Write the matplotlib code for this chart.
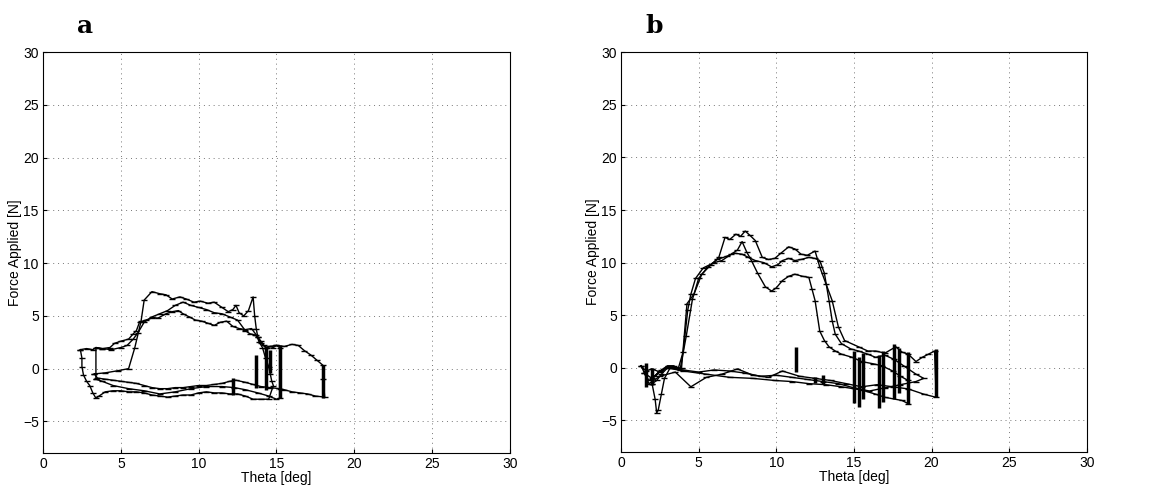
import matplotlib
matplotlib.use("Agg")
import matplotlib.pyplot as plt

plt.rcParams['font.family'] = ['Liberation Sans', 'DejaVu Sans']

# ---- panel a traces (theta [deg], force [N]) ----
a1_x = [3.3, 4.0, 4.8, 5.5, 5.9, 6.3, 6.5, 7.0, 7.5, 7.9, 8.3, 8.8, 9.2, 9.7, 10.1, 10.6, 11.0, 11.5,
        11.9, 12.2, 12.4, 12.6, 12.9, 13.2, 13.5, 13.6, 13.7, 13.8, 14.0, 14.3, 14.6, 15.0, 15.5, 16.0,
        16.4, 16.8, 17.2, 17.6, 18.0, 18.0, 18.1, 17.5, 17.0, 16.5, 16.0, 15.5, 15.2, 14.6, 14.0, 13.5,
        13.0, 12.4, 12.0, 11.5, 11.0, 10.5, 10.0, 9.5, 9.0, 8.5, 8.0, 7.5, 7.0, 6.5, 6.0, 5.5, 5.0,
        4.5, 4.0, 3.5, 3.3]
a1_y = [-0.5, -0.4, -0.2, 0.0, 2.0, 4.5, 6.5, 7.3, 7.1, 7.0, 6.6, 6.8, 6.6, 6.3, 6.4, 6.2, 6.3, 5.8,
        5.4, 5.6, 6.0, 5.3, 5.0, 5.5, 6.8, 5.0, 3.8, 3.0, 2.4, 2.0, 2.1, 2.2, 2.1, 2.3,
        2.2, 1.7, 1.3, 0.8, 0.3, -1.0, -2.7, -2.6, -2.4, -2.3, -2.2, -2.0, -1.9, -1.8, -1.7, -1.5,
        -1.3, -1.1, -1.2, -1.4, -1.5, -1.6, -1.6, -1.7, -1.8, -1.8, -1.9, -1.9, -1.8, -1.6, -1.4, -1.3, -1.2,
        -1.1, -1.0, -0.9, -0.5]

a2_x = [2.4, 2.8, 3.2, 3.4, 3.8, 4.3, 4.6, 5.0, 5.5, 5.8, 6.0, 6.2, 6.6, 7.0, 7.4, 7.9, 8.3, 8.7,
        9.0, 9.4, 9.8, 10.2, 10.6, 11.0, 11.4, 11.8, 12.2, 12.6, 13.0, 13.4, 13.7, 13.9, 14.1, 14.3,
        14.5, 14.6, 14.7, 14.8, 14.5, 14.0, 13.5, 13.0, 12.5, 12.0, 11.5, 11.0, 10.5, 10.0, 9.5, 9.0,
        8.5, 8.0, 7.5, 7.0, 6.5, 6.0, 5.5, 5.0, 4.5, 4.0, 3.6, 3.4, 3.2, 3.0, 2.8, 2.6, 2.5, 2.5, 2.4]
a2_y = [1.8, 1.9, 1.8, 2.0, 1.9, 2.0, 2.4, 2.6, 2.8, 3.3, 3.6, 4.4, 4.6, 4.8, 4.8, 5.2, 5.4, 5.5,
        5.2, 4.9, 4.6, 4.5, 4.3, 4.1, 4.4, 4.5, 4.0, 3.8, 3.7, 3.8, 3.2, 2.5, 2.0, 1.0,
        0.2, -0.5, -1.2, -1.6, -2.9, -2.9, -2.9, -2.6, -2.4, -2.4, -2.3, -2.3, -2.2, -2.3, -2.5, -2.5,
        -2.6, -2.7, -2.6, -2.5, -2.3, -2.2, -2.2, -2.1, -2.1, -2.2, -2.6, -2.8, -2.3, -1.6, -1.2, -0.6, 0.2, 1.0, 1.8]

a3_x = [3.4, 3.4, 3.8, 4.4, 5.0, 5.4, 5.8, 6.1, 6.5, 7.0, 7.5, 8.0, 8.5, 9.0, 9.5, 10.0, 10.5, 11.0,
        11.5, 12.0, 12.5, 13.0, 13.3, 13.6, 13.8, 14.0, 14.2, 14.4, 14.6, 14.8, 15.0, 15.2, 15.2, 15.0,
        14.5, 13.8, 13.0, 12.3, 11.5, 10.5, 9.5, 8.5, 7.5, 6.5, 5.5, 4.5, 3.8, 3.4]
a3_y = [-1.0, 2.0, 1.9, 1.8, 2.0, 2.2, 2.8, 3.4, 4.4, 4.9, 5.2, 5.5, 6.0, 6.3, 6.0, 5.8, 5.6, 5.3,
        5.2, 4.9, 4.6, 3.6, 3.3, 3.2, 3.0, 2.6, 2.2, 2.0, 2.1, 2.0, 2.2, 2.0, -2.8, -2.9,
        -2.6, -2.3, -2.0, -1.8, -1.7, -1.7, -1.9, -2.2, -2.4, -2.1, -1.9, -1.6, -1.2, -1.0]

# short vertical stair blocks (x, y_top, y_bottom)
a_blk_x = [12.2, 13.7, 14.3, 14.6, 15.2, 18.0]
a_blk_top = [-0.9, 1.3, 2.0, 1.8, 2.2, 0.3]
a_blk_bot = [-2.5, -1.8, -2.0, -0.4, -2.8, -2.8]

# ---- panel b traces ----
b1_x = [1.3, 1.6, 2.0, 2.5, 3.0, 3.5, 3.9, 4.25, 4.7, 5.2, 5.8, 6.3, 6.7, 7.0, 7.4, 7.7, 8.0, 8.3,
        8.65, 9.1, 9.5, 9.9, 10.3, 10.8, 11.2, 11.6, 12.0, 12.5, 12.8, 13.2, 13.6, 14.0, 14.4, 15.3,
        15.9, 16.4, 17.0, 17.7, 18.1, 18.5, 19.0, 19.4, 19.8, 20.2, 20.3, 19.5, 18.5, 17.5, 16.5, 15.5,
        14.5, 13.5, 12.5, 11.5, 10.4, 9.5, 8.5, 7.5, 6.5, 5.5, 4.5, 3.5, 2.5, 1.8, 1.3]
b1_y = [0.2, -0.3, -0.1, -0.4, 0.1, 0.0, 0.0, 6.1, 7.0, 8.9, 9.8, 10.5, 12.4, 12.2, 12.7, 12.5, 13.0, 12.6,
        12.1, 10.5, 10.3, 10.4, 10.9, 11.5, 11.3, 10.8, 10.7, 11.1, 9.6, 8.0, 6.4, 3.9, 2.6, 2.0,
        1.6, 1.6, 1.4, 2.0, 1.5, 1.3, 0.6, 1.0, 1.3, 1.6, -2.8, -2.5, -2.0, -1.8, -1.6, -1.8,
        -1.5, -1.2, -1.0, -0.8, -0.3, -0.9, -0.7, -0.1, -0.6, -0.9, -1.8, -0.4, -0.8, -1.5, 0.2]

b2_x = [2.0, 2.2, 2.3, 2.4, 2.6, 2.8, 3.2, 3.7, 4.0, 4.3, 4.5, 4.8, 5.3, 6.0, 6.5, 7.1, 7.5, 7.8,
        8.1, 8.4, 8.8, 9.3, 9.7, 10.0, 10.4, 10.8, 11.2, 11.7, 12.1, 12.3, 12.5, 12.8, 13.1, 13.4,
        13.8, 14.2, 14.9, 15.5, 16.2, 16.8, 17.5, 18.0, 18.5, 18.5, 18.1, 17.0, 16.4, 15.5, 14.2, 13.2,
        12.1, 11.0, 9.9, 8.5, 7.0, 5.5, 4.0, 3.0, 2.6, 2.3, 2.0]
b2_y = [-1.5, -3.0, -4.3, -4.0, -2.5, -1.0, 0.1, 0.0, 1.5, 5.5, 7.0, 8.5, 9.5, 10.0, 10.2, 10.8, 11.2, 12.0,
        11.0, 10.2, 9.0, 7.7, 7.3, 7.6, 8.3, 8.7, 8.9, 8.7, 8.6, 7.5, 6.4, 3.5, 2.6, 2.0,
        1.6, 1.3, 1.0, 0.6, 0.4, 0.2, -0.3, -0.8, -1.2, -3.4, -3.1, -2.8, -2.5, -2.1, -1.8, -1.6,
        -1.5, -1.3, -1.2, -1.0, -0.9, -0.6, -0.3, 0.0, -0.6, -1.2, -1.5]

b3_x = [1.5, 1.8, 2.2, 2.6, 3.0, 3.4, 3.8, 4.2, 4.6, 5.0, 5.6, 6.2, 6.8, 7.3, 7.8, 8.2, 8.65, 9.2,
        9.7, 10.1, 10.4, 10.8, 11.2, 11.6, 12.1, 12.5, 12.8, 13.1, 13.4, 13.6, 13.8, 14.2, 14.8, 15.3,
        15.9, 16.4, 17.0, 17.6, 18.2, 19.0, 19.5, 19.0, 18.0, 17.0, 16.0, 15.0, 14.0, 13.0, 12.0, 11.0,
        10.0, 9.0, 8.0, 7.0, 6.0, 5.0, 4.0, 3.0, 2.5, 2.0, 1.5]
b3_y = [-0.5, -1.2, -0.8, -0.2, 0.2, 0.2, -0.2, 3.0, 6.5, 8.5, 9.6, 10.3, 10.6, 10.9, 10.8, 10.5, 10.2, 10.0,
        9.6, 9.8, 10.2, 10.4, 10.2, 10.3, 10.5, 10.4, 10.2, 9.0, 6.4, 4.5, 3.2, 2.3, 1.8, 1.6,
        1.3, 1.0, 1.2, 0.8, 0.2, -0.6, -1.0, -1.3, -1.6, -1.9, -2.2, -1.9, -1.5, -1.3, -1.1, -0.9,
        -0.7, -0.8, -0.5, -0.3, -0.2, -0.4, -0.2, 0.0, -0.3, -1.0, -0.5]

b_blk_x = [11.3, 12.5, 13.0, 15.0, 15.3, 15.6, 16.6, 16.9, 17.6, 17.9, 18.5, 20.3, 1.6, 2.0]
b_blk_top = [2.0, -0.9, -0.7, 1.6, 1.0, 1.4, 1.2, 1.6, 2.3, 1.9, 1.5, 1.8, 0.5, 0.0]
b_blk_bot = [-0.4, -1.4, -1.5, -3.3, -3.7, -3.0, -3.8, -3.2, -3.0, -2.4, -3.4, -2.8, -1.8, -1.6]

panels = [
    ("a", [(a1_x, a1_y), (a2_x, a2_y), (a3_x, a3_y)], (a_blk_x, a_blk_top, a_blk_bot)),
    ("b", [(b1_x, b1_y), (b2_x, b2_y), (b3_x, b3_y)], (b_blk_x, b_blk_top, b_blk_bot)),
]

fig = plt.figure(figsize=(11.5, 4.87), dpi=100)
rects = [[0.0374, 0.0698, 0.406, 0.823], [0.540, 0.0718, 0.405, 0.821]]
label_pos = [(85, 26), (654, 26)]

for (name, traces, blk), rect, lp in zip(panels, rects, label_pos):
    ax = fig.add_axes(rect)
    for tx, ty in traces:
        ax.plot(tx, ty, color='black', lw=1.0, marker='_', ms=4, mew=1.0)
    bx, btop, bbot = blk
    ax.vlines(bx, bbot, btop, color='black', lw=2.5)
    ax.set_xlim(0, 30)
    ax.set_ylim(-8, 30)
    ax.set_xticks(range(0, 31, 5))
    ax.set_yticks(range(-5, 31, 5))
    ax.set_yticklabels(['\u22125', '0', '5', '10', '15', '20', '25', '30'])
    ax.grid(True, color='#777777', ls=(0, (1, 4)), lw=0.7)
    ax.tick_params(direction='in', length=3, labelsize=10, pad=3)
    ax.set_xlabel('Theta [deg]', fontsize=10, labelpad=0)
    ax.set_ylabel('Force Applied [N]', fontsize=10, labelpad=1)
    for s in ax.spines.values():
        s.set_linewidth(0.8)
    fig.text(lp[0] / 1150, 1 - lp[1] / 487, name, fontsize=18, fontweight='bold',
             family='DejaVu Serif', ha='center', va='center')

fig.savefig('out.png', dpi=100)
